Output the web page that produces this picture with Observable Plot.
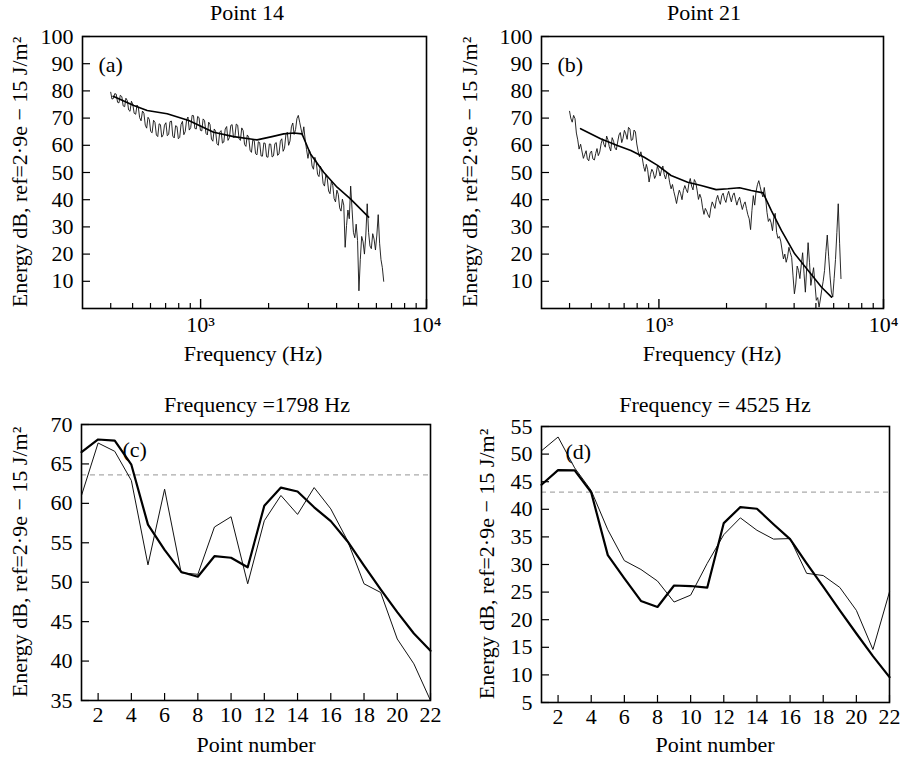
<!DOCTYPE html>
<html><head><meta charset="utf-8">
<script src="https://cdn.jsdelivr.net/npm/d3@7"></script>
<script src="https://cdn.jsdelivr.net/npm/@observablehq/plot@0.6"></script>
<style>
body{margin:0;background:#fff;}
#root{position:relative;width:902px;height:758px;font-family:'Liberation Serif','Times New Roman',serif;color:#000;overflow:hidden;}
#root svg text{font-family:'Liberation Serif','Times New Roman',serif;font-size:22px;}
.p{position:absolute;}
.t{position:absolute;font-size:22px;white-space:nowrap;transform:translate(-50%,-50%);line-height:1;}
.r{transform:translate(-50%,-50%) rotate(-90deg);}
</style></head><body><div id="root"></div>
<script>
// ---------- data ----------
const titles = ["Point 14", "Point 21", "Frequency =1798 Hz", "Frequency = 4525 Hz"];
const panelLetters = ["(a)", "(b)", "(c)", "(d)"];
const yLabel = "Energy dB, ref=2\u00b79e \u2212 15 J/m\u00b2";
const xLabelTop = "Frequency (Hz)";
const xLabelBottom = "Point number";

const freqMinor = [400,500,600,700,800,900,2000,3000,4000,5000,6000,7000,8000,9000];
const freqMajor = [1000, 10000];
const freqMajorLabels = ["10\u00b3", "10\u2074"];
const energyTicks = [10,20,30,40,50,60,70,80,90,100];

// noisy spectra: main frequency grid (Hz) and in-between grid
const freqs = [400,411,423,435,448,461,474,487,501,516,530,545,561,577,593,610,628,646,664,683,
  702,722,743,764,786,808,831,855,879,904,930,957,984,1012,1041,1071,1101,1133,1165,1198,
  1232,1267,1304,1341,1379,1418,1459,1500,1543,1587,1632,1679,1727,1776,1826,1878,1932,1987,2044,2102,
  2162,2223,2287,2352,2419,2488,2559,2632,2707,2784,2863,2945,3029,3115,3204,3295,3389,3486,3585,3687,
  3792,3900,4011,4126,4243,4364,4488,4616,4748,4883,5022,5165,5312,5464,5619,5779,5944,6113,6287,6466];
const freqsMid = [405,417,429,441,454,467,480,494,508,523,537,553,569,585,601,619,637,655,673,692,
  712,732,753,775,797,819,843,867,891,917,943,970,998,1026,1056,1086,1117,1149,1181,1215,
  1249,1285,1322,1360,1398,1438,1479,1521,1565,1609,1655,1703,1751,1801,1852,1905,1959,2015,2073,2132,
  2192,2255,2319,2385,2453,2523,2595,2669,2745,2823,2904,2987,3072,3159,3249,3342,3437,3535,3636,3739,
  3846,3955,4068,4184,4303,4426,4552,4682,4815,4952,5093,5238,5387,5541,5699,5861,6028,6200,6376];

const noisyA = [79.5,77.2,78.8,75.6,77.9,74.2,76.4,72.5,75.0,71.4,73.9,69.0,71.8,66.3,69.5,64.6,68.4,63.2,67.6,63.9,
  68.3,64.0,68.9,62.7,66.9,62.9,68.8,65.1,70.4,66.5,70.9,66.0,70.2,65.3,69.1,63.8,67.6,61.5,65.2,60.0,
  65.4,61.2,66.9,62.8,67.6,63.1,67.4,61.8,65.4,59.6,63.0,57.4,61.8,56.5,61.0,56.0,60.7,55.6,60.4,56.1,
  61.0,56.8,62.4,58.9,64.8,61.6,68.2,65.8,71.0,66.0,66.8,58.4,58.3,52.4,55.6,49.3,52.3,46.0,49.2,43.2,
  46.8,40.4,43.5,37.0,40.2,22.5,36.2,45.0,28.0,31.0,6.5,26.5,20.0,38.5,23.0,27.5,21.5,34.5,18.0,10.0];
const noisyAMid = [77.0,79.0,75.8,78.4,74.5,77.3,73.0,76.2,71.8,74.8,70.2,72.6,67.4,70.3,65.1,69.2,63.8,67.9,63.0,67.4,
  63.5,68.7,63.4,67.2,62.4,67.6,63.9,69.4,65.6,71.0,66.2,70.6,65.5,69.7,64.4,68.5,62.3,66.0,60.6,64.8,
  60.8,66.0,61.8,67.3,62.9,67.8,62.5,66.4,60.3,63.8,58.2,62.0,56.9,61.3,56.1,60.9,55.8,60.5,55.7,60.6,
  56.3,61.5,57.8,63.9,60.0,66.8,64.0,69.8,68.5,63.5,62.0,55.2,56.8,51.2,54.0,48.5,51.0,45.0,47.8,42.2,
  45.3,39.2,42.0,35.8,38.0,30.5,33.0,36.5,26.0,25.0,18.0,24.5,27.0,28.0,22.0,25.5,27.0,24.0,15.0];
const noisyB = [72.5,68.5,69.8,62.0,60.4,55.2,58.0,54.3,57.9,54.6,58.8,57.5,62.4,59.3,62.0,57.9,61.5,58.3,63.8,61.0,
  65.5,62.2,66.0,62.1,64.9,57.8,57.6,52.2,53.0,46.5,51.2,47.8,52.3,48.7,52.4,47.6,49.4,44.0,43.0,38.6,
  43.5,40.0,45.2,42.6,47.8,43.6,46.3,40.1,40.5,34.6,35.8,33.4,39.2,36.8,41.6,38.3,42.4,39.0,43.1,39.2,
  42.5,38.0,40.9,36.4,39.2,34.5,29.0,41.5,43.0,47.0,42.6,44.5,35.3,33.0,28.6,35.0,25.8,24.8,18.2,17.0,
  22.5,18.8,5.4,15.6,11.0,20.5,6.0,24.2,8.5,15.0,3.0,0.5,7.0,14.0,27.0,12.0,4.2,18.0,38.5,11.0];
const noisyBMid = [70.0,71.0,64.5,58.6,57.9,56.6,55.0,57.2,55.0,57.0,56.2,60.6,60.3,63.4,59.5,62.8,59.0,61.2,64.7,62.6,
  64.2,66.6,61.8,65.6,60.5,55.8,55.3,50.4,51.0,49.3,50.2,49.0,51.0,50.8,49.2,50.0,46.2,45.6,41.0,41.4,
  42.2,43.4,43.8,46.0,45.0,47.4,43.5,42.0,37.0,36.8,34.4,37.0,38.0,40.0,39.6,41.5,40.2,41.5,41.0,41.6,
  40.2,39.8,38.5,38.2,36.8,33.0,36.0,38.0,45.5,44.8,41.0,40.5,32.0,31.5,33.5,28.0,26.5,21.5,20.0,19.0,
  20.5,12.0,9.0,14.0,16.0,13.0,15.0,17.0,12.0,9.0,4.0,3.5,10.0,21.0,19.0,6.0,11.0,28.0,24.0];

// smooth (model) curves
const smoothAFreq = [410,506,580,711,886,1142,1400,1778,2071,2333,2583,2812,3060,3506,4020,4605,5544];
const smoothAVal  = [78.0,74.6,72.8,71.6,69.1,64.8,63.2,62.0,63.2,64.2,64.5,64.2,56.9,50.1,44.6,40.3,33.6];
const smoothBFreq = [448,550,653,750,860,986,1132,1343,1541,1798,2028,2286,2577,2908,3168,3510,4023,4619,5300,5870];
const smoothBVal  = [66.1,62.4,59.9,58.1,55.6,52.6,48.9,46.4,45.2,43.7,44.0,44.4,43.4,42.5,36.0,28.7,20.1,14.0,7.8,4.2];

// bottom panels
const pointNumbers = [1,2,3,4,5,6,7,8,9,10,11,12,13,14,15,16,17,18,19,20,21,22];
const pointTicks = [2,4,6,8,10,12,14,16,18,20,22];
const cThick = [66.5,68.1,67.95,64.9,57.3,54.1,51.3,50.7,53.3,53.1,51.9,59.7,62.0,61.5,59.5,57.75,55.2,52.1,49.1,46.2,43.5,41.3];
const cThin  = [61.0,67.65,66.6,62.9,52.2,61.8,51.2,51.0,57.0,58.3,49.8,57.8,61.0,58.6,62.0,59.3,55.3,49.8,48.7,42.8,39.65,35.0];
const cDashed = [63.6];
const cTicks = [35,40,45,50,55,60,65,70];
const dThick = [44.45,47.1,47.05,43.05,31.7,27.5,23.4,22.3,26.2,26.1,25.8,37.5,40.4,40.1,37.3,34.6,30.2,26.0,21.7,17.5,13.4,9.6];
const dThin  = [50.6,53.1,47.5,43.4,36.3,30.7,29.1,27.0,23.2,24.45,30.2,35.4,38.45,36.2,34.6,34.7,28.4,28.0,25.85,21.7,14.6,25.05];
const dDashed = [43.1];
const dTicks = [5,10,15,20,25,30,35,40,45,50,55];

// ---------- drawing ----------
const FONT = "'Liberation Serif','Times New Roman',serif";
const FS = 22;
const root = document.getElementById("root");
const style = {fontFamily: FONT, fontSize: FS + "px", background: "none", overflow: "visible", color: "black"};

function place(node, left, top) {
  node.classList.add("p");
  node.style.left = left + "px";
  node.style.top = top + "px";
  root.appendChild(node);
}
function label(text, x, y, rotate) {
  const d = document.createElement("div");
  d.className = "t" + (rotate ? " r" : "");
  d.textContent = text;
  d.style.left = x + "px";
  d.style.top = y + "px";
  root.appendChild(d);
}
function spectrumTable(main, mid) {
  const rows = freqs.map((f, i) => ({f, v: main[i]}))
    .concat(freqsMid.map((f, i) => ({f, v: mid[i]})));
  return rows.sort((a, b) => a.f - b.f);
}

function spectrumPanel({noisy, noisyMid, sFreq, sVal, letter, ml, mr}) {
  const W = 451, H = 380, mt = 36, mb = 72;
  const iw = W - ml - mr, ih = H - mt - mb;
  const noisyData = spectrumTable(noisy, noisyMid);
  const smoothData = sFreq.map((f, i) => ({f, v: sVal[i]}));
  return Plot.plot({
    width: W, height: H, marginLeft: ml, marginRight: mr, marginTop: mt, marginBottom: mb,
    style,
    x: {type: "log", domain: [300, 10000]},
    y: {domain: [0, 100]},
    marks: [
      Plot.tickX(freqMinor, {x: d => d, insetTop: ih - 5, stroke: "black", strokeWidth: 1.2}),
      Plot.tickX(freqMajor, {x: d => d, insetTop: ih - 9, stroke: "black", strokeWidth: 1.4}),
      Plot.tickY(energyTicks, {y: d => d, insetRight: iw - 8, stroke: "black", strokeWidth: 1.2}),
      Plot.axisX(freqMajor, {tickSize: 0, tickPadding: 8, label: null, fontSize: FS, tickFormat: d => freqMajorLabels[freqMajor.indexOf(d)]}),
      Plot.axisY(energyTicks, {tickSize: 0, tickPadding: 9, label: null, fontSize: FS}),
      Plot.line(noisyData, {x: "f", y: "v", stroke: "#111", strokeWidth: 0.9}),
      Plot.line(smoothData, {x: "f", y: "v", stroke: "black", strokeWidth: 1.6}),
      Plot.text([letter], {frameAnchor: "top-left", dx: 16, dy: 20, textAnchor: "start", fill: "black", fontSize: FS}),
      Plot.frame({stroke: "black", strokeWidth: 1.6})
    ]
  });
}

function pointPanel({thick, thin, dashed, yDomain, yTicks, letter, ml, mr, mt, mb, ldx}) {
  const W = 451, H = 378;
  const iw = W - ml - mr, ih = H - mt - mb;
  const thickData = pointNumbers.map((n, i) => ({n, v: thick[i]}));
  const thinData = pointNumbers.map((n, i) => ({n, v: thin[i]}));
  return Plot.plot({
    width: W, height: H, marginLeft: ml, marginRight: mr, marginTop: mt, marginBottom: mb,
    style,
    x: {domain: [1, 22]},
    y: {domain: yDomain},
    marks: [
      Plot.tickX(pointTicks, {x: d => d, insetTop: ih - 7, stroke: "black", strokeWidth: 1.2}),
      Plot.tickY(yTicks, {y: d => d, insetRight: iw - 8, stroke: "black", strokeWidth: 1.2}),
      Plot.axisX(pointTicks, {tickSize: 0, tickPadding: 6, label: null, fontSize: FS}),
      Plot.axisY(yTicks, {tickSize: 0, tickPadding: 9, label: null, fontSize: FS}),
      Plot.ruleY(dashed, {stroke: "#aaa", strokeWidth: 1.2, strokeDasharray: "5,4"}),
      Plot.line(thinData, {x: "n", y: "v", stroke: "#111", strokeWidth: 1}),
      Plot.line(thickData, {x: "n", y: "v", stroke: "black", strokeWidth: 2.2}),
      Plot.text([letter], {frameAnchor: "top-left", dx: ldx, dy: 17, textAnchor: "start", fill: "black", fontSize: FS}),
      Plot.frame({stroke: "black", strokeWidth: 1.6})
    ]
  });
}

place(spectrumPanel({noisy: noisyA, noisyMid: noisyAMid, sFreq: smoothAFreq, sVal: smoothAVal, letter: panelLetters[0], ml: 82, mr: 25}), 0, 0);
place(spectrumPanel({noisy: noisyB, noisyMid: noisyBMid, sFreq: smoothBFreq, sVal: smoothBVal, letter: panelLetters[1], ml: 90, mr: 19}), 451, 0);
place(pointPanel({thick: cThick, thin: cThin, dashed: cDashed, yDomain: [35, 70], yTicks: cTicks, letter: panelLetters[2], ml: 81, mr: 21, mt: 44, mb: 58, ldx: 41}), 0, 380);
place(pointPanel({thick: dThick, thin: dThin, dashed: dDashed, yDomain: [5, 55], yTicks: dTicks, letter: panelLetters[3], ml: 90, mr: 13, mt: 46, mb: 56, ldx: 24}), 451, 380);

label(titles[0], 247, 13);
label(titles[1], 704, 13);
label(titles[2], 257, 405);
label(titles[3], 715, 405);
label(xLabelTop, 253, 354);
label(xLabelTop, 712, 354);
label(xLabelBottom, 256, 745);
label(xLabelBottom, 715, 745);
label(yLabel, 20, 172, true);
label(yLabel, 470, 172, true);
label(yLabel, 20, 562, true);
label(yLabel, 487, 564, true);
</script>
</body></html>
